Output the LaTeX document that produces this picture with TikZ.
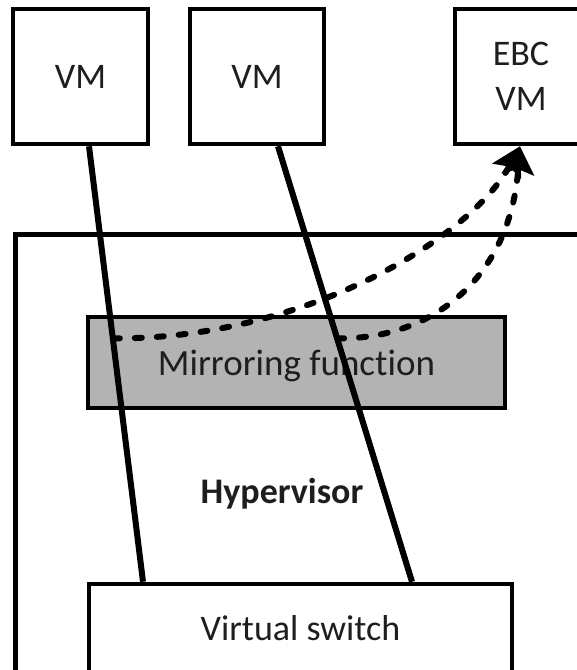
\documentclass[tikz,border=0pt]{standalone}
\usepackage{fontspec}
\setmainfont{Carlito}[Ligatures=NoCommon]
\usetikzlibrary{arrows.meta}

\definecolor{mirrorgray}{RGB}{179,179,179}
\definecolor{inkgray}{RGB}{30,30,30}

\tikzset{
  box/.style={draw=black, line width=4.5pt, fill=white, inner sep=0pt,
              text=inkgray, font=\fontsize{36}{45}\selectfont, align=center},
  link/.style={draw=black, line width=6pt},
  mirrorflow/.style={draw=black, line width=6pt, dash pattern=on 7pt off 15pt,
                     line cap=round,
                     -{Stealth[length=28pt,width=32pt,inset=5pt,line cap=butt]}},
}

\begin{document}
\begin{tikzpicture}[x=1pt, y=-1pt]
  \useasboundingbox (0,0) rectangle (577,670);
  \clip (0,0) rectangle (577,670);

  % hypervisor frame (runs past the right and bottom edges)
  \node[box, minimum width=600pt, minimum height=450pt, anchor=north west] (hv) at (13,232) {};
  \node[text=inkgray, font=\fontsize{36}{45}\selectfont\bfseries] (hvlabel) at (282,494) {Hypervisor};

  % mirroring function inside the hypervisor
  \node[box, fill=mirrorgray, minimum width=417pt, minimum height=91pt, text depth=0pt,
        font=\fontsize{37}{45}\selectfont] (mirror) at (296.5,362.5) {Mirroring function};

  % virtual switch at the bottom
  \node[box, minimum width=423pt, minimum height=88pt] (vsw) at (300.5,628) {Virtual switch};

  % virtual machines
  \node[box, minimum width=135pt, minimum height=135pt] (vm1) at (80.5,76.5) {VM};
  \node[box, minimum width=134pt, minimum height=135pt] (vm2) at (257,76.5) {VM};
  \node[box, minimum width=132pt, minimum height=135pt] (ebc) at (521,76.5) {EBC\\VM};

  % VM to virtual switch connections
  \draw[link] ([xshift=8.5pt]vm1.south) -- coordinate[pos=0.441] (m1) ([xshift=-157.5pt]vsw.north);
  \draw[link] ([xshift=21pt]vm2.south) -- coordinate[pos=0.441] (m2) ([xshift=111.5pt]vsw.north);

  % mirrored traffic towards the EBC VM
  \draw[mirrorflow] (m1) .. controls (300,340) and (470,240) .. ([xshift=-1pt]ebc.south);
  \draw[mirrorflow] (m2) .. controls (430,340) and (510,280) .. ([xshift=-1pt]ebc.south);
\end{tikzpicture}
\end{document}
